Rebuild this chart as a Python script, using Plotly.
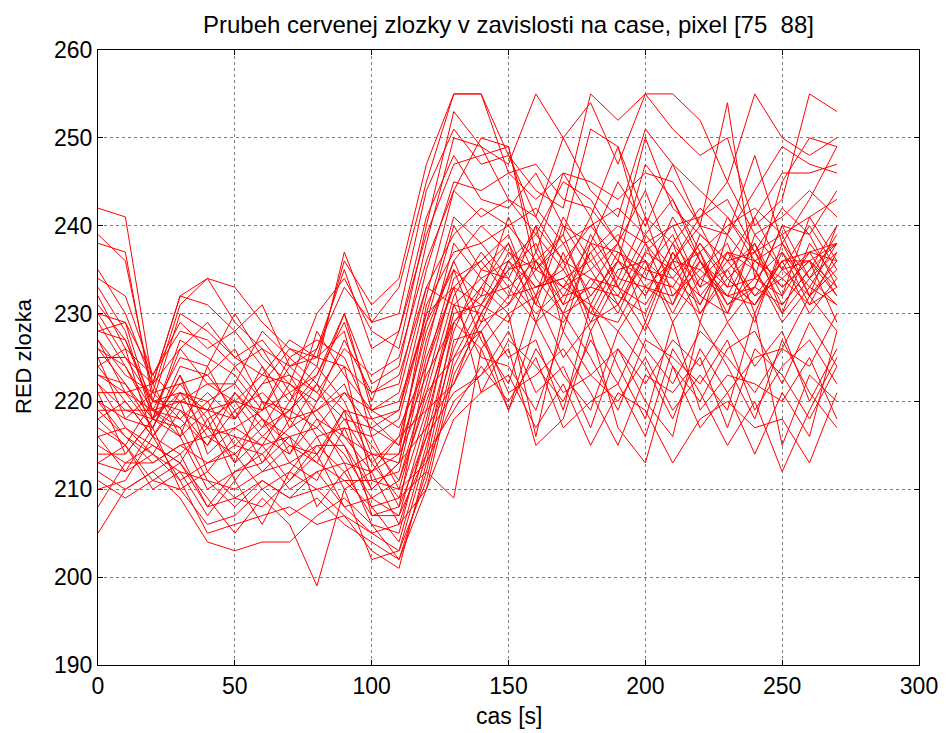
import plotly.graph_objects as go

time_s = list(range(0, 280, 10))

s01 = [242,241,222,232,234,233,229,226,224,237,229,233,245,255,255,248,241,236,240,236,247,243,236,233,241,235,236,238]
s02 = [239,236,221,231,234,229,226,224,225,236,231,234,247,255,255,246,243,246,241,249,238,240,241,243,237,239,232,240]
s03 = [238,237,220,230,228,225,223,222,230,234,228,226,240,253,249,247,255,250,244,241,251,247,240,254,234,245,250,249]
s04 = [235,230,222,232,231,228,224,220,226,233,229,230,244,251,247,248,244,242,255,252,255,251,248,250,240,243,255,253]
s05 = [233,228,218,226,222,222,228,225,222,230,222,224,238,250,249,243,241,250,254,247,255,255,252,245,255,250,248,250]
s06 = [232,226,223,228,227,224,220,219,223,229,220,228,239,247,248,249,237,246,245,243,246,245,240,239,244,249,247,246]
s07 = [230,229,219,225,224,230,225,222,220,227,221,222,235,245,244,246,247,243,242,238,250,242,239,236,241,246,246,247]
s08 = [229,224,218,227,225,223,219,225,227,225,218,219,232,244,250,249,235,239,251,249,241,238,242,239,248,238,243,249]
s09 = [228,227,219,220,219,218,222,226,225,228,216,218,230,241,238,240,236,233,238,237,234,241,236,232,231,236,237,238]
s10 = [227,223,221,222,218,220,219,224,221,218,217,215,229,240,235,238,232,241,236,239,236,233,230,235,238,232,241,236]
s11 = [226,222,217,224,223,219,221,218,219,222,214,213,226,238,234,236,239,235,241,233,239,235,237,229,233,240,234,239]
s12 = [225,225,220,219,217,216,215,220,224,220,213,216,228,236,240,237,235,238,232,236,232,238,234,237,235,230,238,234]
s13 = [224,226,216,221,220,222,218,216,217,221,219,217,224,235,232,241,234,230,237,240,238,231,239,236,232,234,231,237]
s14 = [223,221,219,218,221,218,222,223,218,216,212,214,231,237,238,234,240,236,234,231,237,240,233,241,236,233,236,233]
s15 = [222,219,218,221,216,214,217,219,222,219,215,211,222,234,236,239,231,240,235,238,233,236,240,234,237,231,235,240]
s16 = [221,221,222,216,219,220,216,214,220,224,211,212,225,233,231,235,238,231,239,234,241,232,235,238,230,237,233,231]
s17 = [220,218,217,223,214,217,219,221,216,217,216,210,221,232,237,233,236,239,231,237,235,239,232,230,239,235,240,235]
s18 = [219,219,219,217,220,215,214,217,219,215,210,213,227,236,229,236,233,234,236,232,238,234,238,233,234,232,237,232]
s19 = [219,216,214,219,215,221,218,215,214,218,213,209,219,231,234,231,237,232,233,238,229,237,231,237,236,238,232,236]
s20 = [218,220,216,214,217,213,216,219,217,214,209,211,220,229,233,238,229,237,229,235,236,230,236,231,233,240,239,233]
s21 = [217,215,220,220,212,216,212,213,215,212,214,208,224,233,236,232,240,228,238,233,231,236,229,239,235,229,233,238]
s22 = [216,217,215,213,218,211,215,216,213,219,207,207,218,230,231,237,233,235,230,236,234,233,238,234,231,236,230,234]
s23 = [215,213,213,215,213,214,210,212,216,210,212,206,216,228,235,234,230,233,235,230,237,235,232,236,237,233,236,229]
s24 = [214,214,218,216,210,212,214,210,212,213,206,205,217,231,230,235,236,231,233,232,230,237,233,235,229,238,234,231]
s25 = [213,212,214,212,211,208,211,209,210,211,208,204,215,226,233,230,232,236,228,234,233,232,236,230,236,234,237,236]
s26 = [212,210,212,214,208,209,208,211,214,208,205,203,214,229,232,233,229,232,237,231,236,229,234,232,233,231,235,238]
s27 = [211,209,211,210,206,207,210,207,209,206,204,202,212,225,231,229,236,230,232,236,232,238,230,234,231,235,232,235]
s28 = [210,211,216,211,205,206,207,208,206,207,203,201,213,227,228,232,233,234,230,229,235,234,231,237,232,236,236,232]
s29 = [208,213,215,213,209,205,209,206,199,210,202,203,211,224,230,236,231,229,234,233,228,236,235,232,238,230,234,237]
s30 = [205,210,212,209,204,203,204,204,207,209,206,202,210,223,229,231,235,233,231,228,233,231,237,231,234,237,231,233]
s31 = [231,227,220,221,219,224,226,221,223,230,219,220,229,235,227,222,232,225,229,231,226,222,228,225,221,226,232,228]
s32 = [228,229,223,220,222,220,223,227,225,224,221,223,233,231,225,224,219,228,223,226,222,227,224,229,224,228,220,226]
s33 = [227,221,217,223,217,221,217,222,219,221,217,219,230,233,221,227,224,220,227,222,229,224,220,226,228,222,229,224]
s34 = [226,224,219,216,224,218,224,217,222,216,214,214,221,225,228,219,229,223,219,228,224,218,226,221,225,226,224,230]
s35 = [225,218,221,218,215,219,213,218,214,219,218,215,223,229,226,230,216,230,225,219,227,225,222,227,219,224,227,222]
s36 = [224,220,216,220,219,213,220,214,218,213,212,216,219,222,230,225,227,219,231,224,218,229,219,223,222,220,225,218]
s37 = [222,217,214,211,213,215,218,213,211,217,210,213,217,222,228,221,223,226,221,215,223,221,225,217,226,223,218,224]
s38 = [221,214,218,217,211,210,212,215,213,211,211,210,213,220,223,228,221,224,217,226,220,216,229,224,218,227,221,217]
s39 = [220,216,213,215,216,217,215,211,215,215,208,209,212,209,226,219,226,221,223,220,225,219,223,219,230,215,223,220]
s40 = [218,215,211,213,208,212,213,216,208,212,207,208,216,221,223,226,215,218,228,217,213,224,217,221,214,221,216,228]
s41 = [216,212,217,210,212,209,211,209,212,208,209,207,214,219,224,220,225,217,220,222,216,226,221,215,220,212,219,225]
s42 = [213,215,210,212,207,211,206,212,210,207,205,206,210,218,221,223,217,222,215,221,219,213,218,220,217,218,213,221]
s43 = [234,232,223,229,226,228,231,224,226,235,226,228,241,248,243,242,246,240,238,245,240,247,244,241,237,242,239,244]
s44 = [230,225,222,226,229,225,227,223,221,226,223,225,236,244,241,243,239,245,243,238,244,236,241,245,239,241,244,241]
s45 = [223,222,218,222,223,226,220,218,228,223,219,221,233,239,242,240,242,238,240,242,239,243,237,240,242,239,241,243]

series = [s01,s02,s03,s04,s05,s06,s07,s08,s09,s10,s11,s12,s13,s14,s15,
          s16,s17,s18,s19,s20,s21,s22,s23,s24,s25,s26,s27,s28,s29,s30,
          s31,s32,s33,s34,s35,s36,s37,s38,s39,s40,s41,s42,s43,s44,s45]

x_ticks = [0, 50, 100, 150, 200, 250, 300]
y_ticks = [190, 200, 210, 220, 230, 240, 250, 260]

title_text = "Prubeh cervenej zlozky v zavislosti na case, pixel [75  88]"
x_label = "cas [s]"
y_label = "RED zlozka"

FONT = "Liberation Sans, Arial, sans-serif"

fig = go.Figure()
for s in series:
    fig.add_trace(go.Scatter(x=time_s, y=s, mode="lines",
                             line=dict(color="#ff0000", width=1),
                             showlegend=False, hoverinfo="skip"))

axis_common = dict(
    showline=True, linecolor="black", linewidth=1, mirror="ticks",
    ticks="inside", ticklen=5, tickcolor="black",
    showgrid=True, gridcolor="rgba(0,0,0,0.5)", griddash="dot", gridwidth=1,
    zeroline=False, automargin=False,
    tickfont=dict(family=FONT, size=23, color="black"),
)

fig.update_layout(
    width=938, height=725,
    margin=dict(l=90, r=27, t=42, b=68, autoexpand=False),
    paper_bgcolor="white", plot_bgcolor="white",
    title=dict(text=title_text, x=0.5, xanchor="center", xref="paper",
               y=0.9766, yanchor="middle",
               font=dict(family=FONT, size=24, color="black")),
    xaxis=dict(range=[0, 300], tickvals=x_ticks, **axis_common),
    yaxis=dict(range=[190, 260], tickvals=y_ticks, **axis_common),
    annotations=[
        dict(text=x_label, xref="paper", yref="paper", x=0.5, y=-0.0829,
             xanchor="center", yanchor="middle", showarrow=False,
             font=dict(family=FONT, size=23, color="black")),
        dict(text=y_label, xref="paper", yref="paper", x=-0.0914, y=0.5024,
             xanchor="center", yanchor="middle", showarrow=False, textangle=-90,
             font=dict(family=FONT, size=22, color="black")),
    ],
)

fig.write_html("out.html")
